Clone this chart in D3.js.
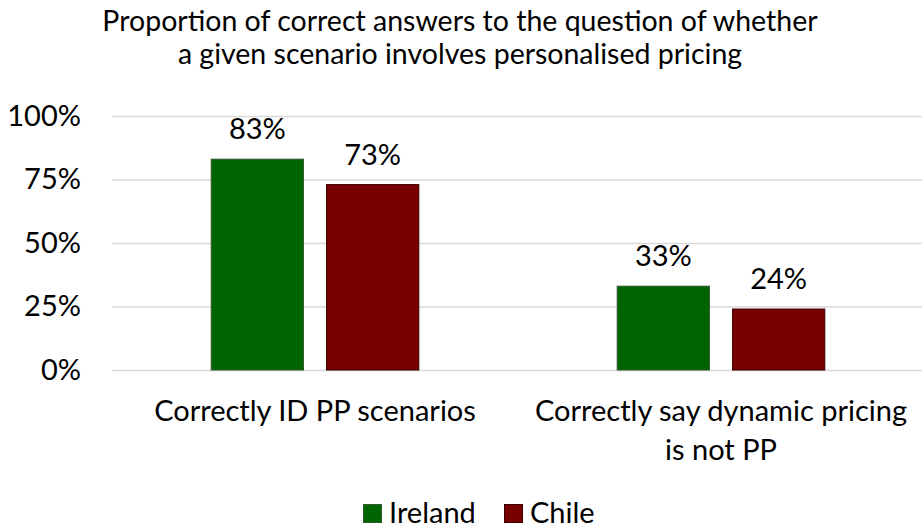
<!DOCTYPE html>
<html>
<head>
<meta charset="utf-8">
<script src="https://cdn.jsdelivr.net/npm/d3@7"></script>
<style>
  html, body { margin: 0; padding: 0; background: #fff; }
  svg { display: block; font-family: Lato, "Open Sans", sans-serif; }
</style>
</head>
<body>
<svg id="chart" width="922" height="530"></svg>
<script>
// Chart data
const categories = [
  ["Correctly ID PP scenarios"],
  ["Correctly say dynamic pricing", "is not PP"]
];
const seriesNames = ["Ireland", "Chile"];
const irelandValues = [0.83, 0.33];
const chileValues = [0.73, 0.24];
const yTicks = [0, 0.25, 0.5, 0.75, 1];
const titleLines = [
  "Proportion of correct answers to the question of whether",
  "a given scenario involves personalised pricing"
];

const fills = ["#006400", "#770000"];
const strokes = ["#2f5a2f", "#3a0000"];
const FS = 29;

const svg = d3.select("#chart");
const W = 922;
const plotLeft = 112, plotRight = 924;
const plotBottom = 370, plotTop = 116;
const groupWidth = 207.6;

const x0 = d3.scaleBand()
  .domain(d3.range(categories.length))
  .range([plotLeft, plotRight]);

const x1 = d3.scaleBand()
  .domain(d3.range(seriesNames.length))
  .range([0, groupWidth])
  .paddingInner(0.2);

const y = d3.scaleLinear().domain([0, 1]).range([plotBottom, plotTop]);
const pct = d3.format(".0%");

// Title
svg.append("g").selectAll("text")
  .data(titleLines).join("text")
  .attr("x", 460).attr("y", (d, i) => 31 + i * 33)
  .attr("text-anchor", "middle")
  .attr("font-size", 28.5)
  .attr("fill", "#000")
  .text(d => d);

// Gridlines and y axis labels
const yAxis = d3.axisLeft(y)
  .tickValues(yTicks)
  .tickSize(-(W - plotLeft))
  .tickFormat(pct);

const gy = svg.append("g")
  .attr("transform", `translate(${plotLeft},0)`)
  .call(yAxis);
gy.select(".domain").remove();
gy.selectAll(".tick line").attr("stroke", "#d9d9d9").attr("stroke-width", 1.5);
gy.selectAll(".tick text")
  .attr("font-size", FS)
  .attr("fill", "#000")
  .attr("font-family", "Lato, 'Open Sans', sans-serif")
  .attr("x", -31)
  .attr("dy", null)
  .attr("y", 9);

// Bars
const rows = categories.map((c, i) => ({
  i,
  values: [irelandValues[i], chileValues[i]]
}));

const groups = svg.append("g").selectAll("g")
  .data(rows).join("g")
  .attr("transform", d => `translate(${x0(d.i) + (x0.bandwidth() - groupWidth) / 2},0)`);

groups.selectAll("rect")
  .data(d => d.values.map((v, s) => ({ v, s })))
  .join("rect")
  .attr("x", d => x1(d.s))
  .attr("width", x1.bandwidth())
  .attr("y", d => y(d.v))
  .attr("height", d => y(0) - y(d.v))
  .attr("fill", d => fills[d.s])
  .attr("stroke", d => strokes[d.s])
  .attr("stroke-width", 1);

groups.selectAll("text.val")
  .data(d => d.values.map((v, s) => ({ v, s })))
  .join("text")
  .attr("class", "val")
  .attr("x", d => x1(d.s) + x1.bandwidth() / 2)
  .attr("y", d => y(d.v) - 20)
  .attr("text-anchor", "middle")
  .attr("font-size", FS)
  .attr("fill", "#000")
  .text(d => pct(d.v));

// Category labels
const catG = svg.append("g").selectAll("g")
  .data(categories).join("g");
catG.selectAll("text")
  .data((d, i) => d.map((line, j) => ({ line, j, i })))
  .join("text")
  .attr("x", d => x0(d.i) + x0.bandwidth() / 2)
  .attr("y", d => 421 + d.j * 39)
  .attr("text-anchor", "middle")
  .attr("font-size", FS)
  .attr("fill", "#000")
  .text(d => d.line);

// Legend
const legendItems = [
  { name: seriesNames[0], x: 363 },
  { name: seriesNames[1], x: 504 }
];
const lg = svg.append("g").selectAll("g")
  .data(legendItems).join("g")
  .attr("transform", d => `translate(${d.x},0)`);
lg.append("rect")
  .attr("x", 0.5).attr("y", 504.5).attr("width", 18).attr("height", 18)
  .attr("fill", (d, i) => fills[i])
  .attr("stroke", (d, i) => strokes[i]);
lg.append("text")
  .attr("x", 26).attr("y", 523)
  .attr("font-size", FS)
  .attr("fill", "#000")
  .text(d => d.name);
</script>
</body>
</html>
